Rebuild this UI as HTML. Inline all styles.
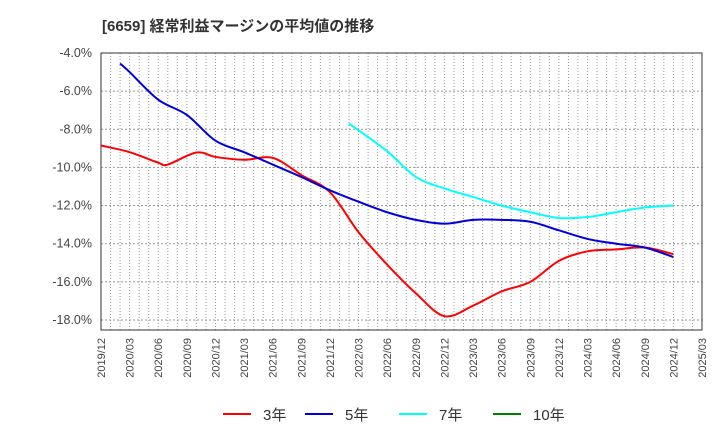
<!DOCTYPE html>
<html><head><meta charset="utf-8"><style>
body{margin:0;background:#fff;}
svg text{font-family:"Liberation Sans","Noto Sans CJK JP",sans-serif;}
</style></head><body>
<svg id="c" width="720" height="440" xmlns="http://www.w3.org/2000/svg">
<text x="102" y="31" font-size="15" font-weight="bold" fill="#333">[6659]  経常利益マージンの平均値の推移</text>
<g id="grid"></g><g id="axes"></g><g id="series"></g><g id="legend"></g>
</svg>
<script>
const xLabels=["2019/12","2020/03","2020/06","2020/09","2020/12","2021/03","2021/06","2021/09","2021/12","2022/03","2022/06","2022/09","2022/12","2023/03","2023/06","2023/09","2023/12","2024/03","2024/06","2024/09","2024/12","2025/03"];
const yTicks=[-4,-6,-8,-10,-12,-14,-16,-18];
const redMonths=[0,3,6,7,10,12,15,18,21,24,27,30,33,36,39,42,45,48,51,54,57,60];
const redValues=[-8.85,-9.2,-9.75,-9.85,-9.22,-9.45,-9.6,-9.5,-10.4,-11.3,-13.4,-15.1,-16.6,-17.8,-17.25,-16.5,-16.0,-14.9,-14.4,-14.3,-14.2,-14.55];
const blueMonths=[2,3,6,9,12,15,18,21,24,27,30,33,36,39,42,45,48,51,54,57,60];
const blueValues=[-4.55,-5.0,-6.45,-7.25,-8.6,-9.2,-9.85,-10.5,-11.2,-11.8,-12.35,-12.75,-12.95,-12.75,-12.75,-12.85,-13.3,-13.75,-14.0,-14.2,-14.7];
const cyanMonths=[26,30,33,36,39,42,45,48,51,54,57,60];
const cyanValues=[-7.7,-9.15,-10.5,-11.1,-11.55,-12.0,-12.35,-12.65,-12.6,-12.35,-12.1,-12.0];
const L=101,R=702,T=53,B=330;
const x=m=>L+m*(R-L)/63;
const y=v=>T+(-4-v)*19.07;
const NS="http://www.w3.org/2000/svg";
function mk(tag,attrs,parent){const e=document.createElementNS(NS,tag);for(const k in attrs)e.setAttribute(k,attrs[k]);parent.appendChild(e);return e;}
const grid=document.getElementById('grid'),axes=document.getElementById('axes'),ser=document.getElementById('series'),leg=document.getElementById('legend');
for(let m=1;m<63;m++){const l=mk('line',{x1:x(m),x2:x(m),y1:T,y2:B,stroke:'#999','stroke-width':1,'stroke-dasharray':'1,2'},grid);

}
yTicks.forEach(v=>{const l=mk('line',{x1:L,x2:R,y1:y(v),y2:y(v),stroke:'#999','stroke-width':1,'stroke-dasharray':'2,2'},grid);


const t=mk('text',{x:92,y:y(v)+4,'font-size':12.5,fill:'#444','text-anchor':'end'},axes);t.textContent=v.toFixed(1)+'%';

});
const fr=mk('rect',{x:L,y:T,width:R-L,height:B-T,fill:'none',stroke:'#333','stroke-width':1},axes);


xLabels.forEach((s,i)=>{const xx=x(i*3)+4;const t=mk('text',{x:0,y:0,'font-size':11,fill:'#444','text-anchor':'end',transform:`translate(${xx},338) rotate(-90)`},axes);t.textContent=s;

});
function path(ms,vs){const p=ms.map((m,i)=>[x(m),y(vs[i])]);let d=`M${p[0][0]},${p[0][1]}`;
for(let i=0;i<p.length-1;i++){const p0=p[Math.max(i-1,0)],p1=p[i],p2=p[i+1],p3=p[Math.min(i+2,p.length-1)];
d+=` C${p1[0]+(p2[0]-p0[0])/6},${p1[1]+(p2[1]-p0[1])/6} ${p2[0]-(p3[0]-p1[0])/6},${p2[1]-(p3[1]-p1[1])/6} ${p2[0]},${p2[1]}`;}return d;}
[[redMonths,redValues,'#ff0000','line-3yr'],[blueMonths,blueValues,'#0000dd','line-5yr'],[cyanMonths,cyanValues,'#00ffff','line-7yr']].forEach(s=>{
const e=mk('path',{d:path(s[0],s[1]),fill:'none',stroke:s[2],'stroke-width':2},ser);

});
[['3年','#ff0000',223],['5年','#0000dd',305],['7年','#00ffff',399],['10年','#008000',493]].forEach(s=>{
const g=mk('g',{},leg);


mk('line',{x1:s[2],x2:s[2]+28,y1:414,y2:414,stroke:s[1],'stroke-width':2},g);
const t=mk('text',{x:s[2]+40,y:420,'font-size':15,fill:'#333'},g);t.textContent=s[0];});
</script>
</body></html>
